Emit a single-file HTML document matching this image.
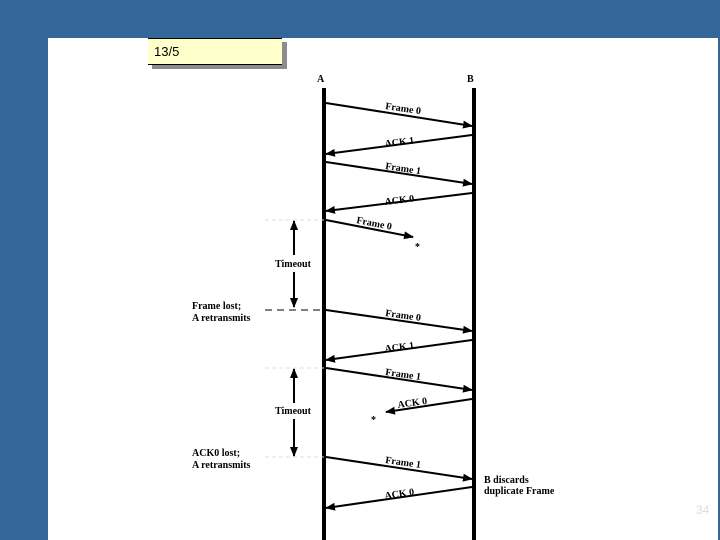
<!DOCTYPE html>
<html><head><style>
body{margin:0;width:720px;height:540px;background:#336699;position:relative;overflow:hidden;font-family:"Liberation Serif",serif;}
#p{position:absolute;left:48px;top:38px;width:670px;height:502px;background:#fff;}
#sh{position:absolute;left:152px;top:42px;width:135px;height:27px;background:#8c8c8c;}
#box{position:absolute;left:148px;top:38px;width:134px;height:25px;background:#ffffcc;border-top:1px solid #000;border-bottom:1px solid #000;font-family:"Liberation Sans",sans-serif;font-size:13px;line-height:25px;padding-left:6px;box-sizing:border-box;height:27px;}
svg{position:absolute;left:0;top:0;}
svg text{font-family:"Liberation Serif",serif;font-weight:bold;font-size:10px;fill:#000;}
</style></head><body>
<div id="p"></div><div id="sh"></div><div id="box">13/5</div>
<svg width="720" height="540">
<defs><marker id="a" markerWidth="10" markerHeight="8" refX="9" refY="4" orient="auto" markerUnits="userSpaceOnUse"><path d="M0,0L10,4L0,8z" fill="#000"/></marker></defs>
<g stroke="#000" stroke-width="4"><line x1="324" y1="88" x2="324" y2="540"/><line x1="474" y1="88" x2="474" y2="540"/></g>
<text x="317" y="82" font-size="12">A</text><text x="467" y="82" font-size="12">B</text>
<g stroke="#000" stroke-width="2" marker-end="url(#a)">
<line x1="326" y1="103" x2="472" y2="126"/>
<line x1="472" y1="135" x2="326" y2="154"/>
<line x1="326" y1="162" x2="472" y2="184"/>
<line x1="472" y1="193" x2="326" y2="211"/>
<line x1="326" y1="220" x2="413" y2="237"/>
<line x1="326" y1="310" x2="472" y2="331"/>
<line x1="472" y1="340" x2="326" y2="360"/>
<line x1="326" y1="368" x2="472" y2="390"/>
<line x1="472" y1="399" x2="386" y2="412"/>
<line x1="326" y1="457" x2="472" y2="479"/>
<line x1="472" y1="487" x2="326" y2="508"/>
</g>
<text transform="translate(385,109) rotate(8.5)">Frame 0</text>
<text transform="translate(385,147) rotate(-7)">ACK 1</text>
<text transform="translate(385,169) rotate(8.5)">Frame 1</text>
<text transform="translate(385,205) rotate(-7)">ACK 0</text>
<text transform="translate(356,223) rotate(11)">Frame 0</text>
<text transform="translate(385,316) rotate(8)">Frame 0</text>
<text transform="translate(385,352) rotate(-7)">ACK 1</text>
<text transform="translate(385,375) rotate(8)">Frame 1</text>
<text transform="translate(398,408) rotate(-8)">ACK 0</text>
<text transform="translate(385,463) rotate(8)">Frame 1</text>
<text transform="translate(385,499) rotate(-8)">ACK 0</text>
<text x="415" y="250" font-size="20">*</text>
<text x="371" y="423" font-size="20">*</text>
<g stroke="#000" stroke-width="2" marker-end="url(#a)">
<line x1="294" y1="255" x2="294" y2="221"/><line x1="294" y1="272" x2="294" y2="307"/>
<line x1="294" y1="403" x2="294" y2="369"/><line x1="294" y1="419" x2="294" y2="456"/>
</g>
<text x="275" y="267">Timeout</text><text x="275" y="414">Timeout</text>
<line x1="265" y1="310" x2="324" y2="310" stroke="#000" stroke-dasharray="7,5"/>
<g stroke="#ddd" stroke-dasharray="4,3"><line x1="265" y1="220" x2="324" y2="220"/><line x1="265" y1="368" x2="324" y2="368"/><line x1="265" y1="457" x2="324" y2="457"/></g>
<text x="192" y="309">Frame lost;</text><text x="192" y="321">A retransmits</text>
<text x="192" y="456">ACK0 lost;</text><text x="192" y="468">A retransmits</text>
<text x="484" y="483">B discards</text><text x="484" y="494">duplicate Frame</text>
<text x="696" y="514" style="font-family:'Liberation Sans',sans-serif;font-weight:normal;font-size:12px;fill:#ddd">34</text>
</svg>
</body></html>
